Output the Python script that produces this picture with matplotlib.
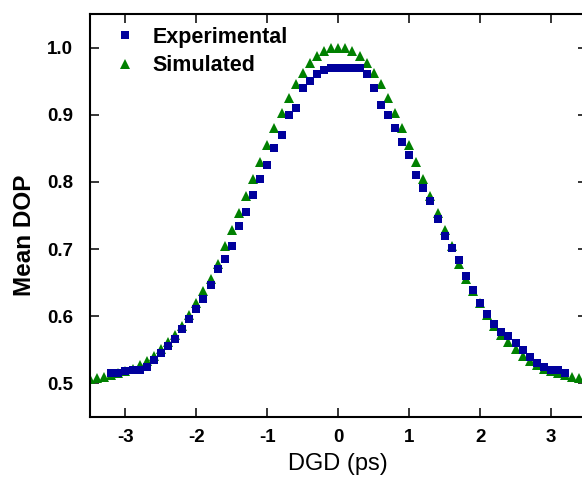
import matplotlib
matplotlib.use('Agg')
import matplotlib.pyplot as plt
import numpy as np

plt.rcParams['font.family'] = ['Liberation Sans', 'DejaVu Sans']

# simulated mean DOP, DGD from -3.5 to 3.5 ps in 0.1 steps
sim_dgd = np.round(np.arange(-35, 36) * 0.1, 1)
sim_dop = [0.507, 0.508, 0.510, 0.512, 0.515, 0.518, 0.522, 0.527, 0.533, 0.541,
           0.551, 0.561, 0.572, 0.586, 0.602, 0.619, 0.637, 0.656, 0.678, 0.704,
           0.729, 0.753, 0.779, 0.804, 0.829, 0.855, 0.880, 0.903, 0.925, 0.946,
           0.962, 0.977, 0.988, 0.995, 0.999, 1.000, 0.999, 0.995, 0.988, 0.977,
           0.962, 0.946, 0.925, 0.903, 0.880, 0.855, 0.829, 0.804, 0.779, 0.753,
           0.729, 0.704, 0.678, 0.656, 0.637, 0.619, 0.602, 0.586, 0.572, 0.561,
           0.551, 0.541, 0.533, 0.527, 0.522, 0.518, 0.515, 0.512, 0.510, 0.508,
           0.507]

# experimental mean DOP, -3.2 to 3.2 ps
exp_dgd = np.round(np.arange(-32, 33) * 0.1, 1)
exp_dop = [0.515, 0.516, 0.519, 0.520, 0.520, 0.525, 0.535, 0.546, 0.556, 0.566,
           0.581, 0.596, 0.611, 0.626, 0.646, 0.670, 0.685, 0.705, 0.734, 0.755,
           0.781, 0.805, 0.825, 0.850, 0.870, 0.899, 0.910, 0.940, 0.950, 0.960,
           0.966, 0.970, 0.970, 0.970, 0.970, 0.970, 0.960, 0.940, 0.915, 0.900,
           0.880, 0.860, 0.840, 0.811, 0.791, 0.771, 0.745, 0.720, 0.701, 0.684,
           0.660, 0.639, 0.619, 0.604, 0.589, 0.576, 0.571, 0.560, 0.550, 0.540,
           0.530, 0.525, 0.520, 0.520, 0.515]

xticks = [-3, -2, -1, 0, 1, 2, 3]
yticks = [0.5, 0.6, 0.7, 0.8, 0.9, 1.0]

fig = plt.figure(figsize=(5.82, 4.8), dpi=100)
ax = fig.add_axes([90/582, 63/480, 496.5/582, 403/480])

ax.plot(sim_dgd, sim_dop, '^', color='#008000', ms=7.5, mew=0, label='Simulated', zorder=2)
ax.plot(exp_dgd, exp_dop, 's', color='#00009C', ms=5.6, mew=0, label='Experimental', zorder=3)

ax.set_xlim(-3.5, 3.5)
ax.set_ylim(0.45, 1.05)
ax.set_xticks(xticks)
ax.set_xticklabels(['-3', '-2', '-1', '0', '1', '2', '3'])
ax.set_yticks(yticks)
ax.set_yticklabels(['%.1f' % v for v in yticks])
ax.tick_params(direction='in', length=6.5, width=1.1, top=True, right=True,
               labelsize=13.5)
ax.tick_params(axis='y', pad=12)
ax.tick_params(axis='x', pad=9)
for t in ax.get_xticklabels() + ax.get_yticklabels():
    t.set_fontweight('bold')
for s in ax.spines.values():
    s.set_linewidth(1.5)

ax.set_xlabel('DGD (ps)', fontsize=17, labelpad=5)
ax.set_ylabel('Mean DOP', fontsize=17.5, fontweight='bold')
ax.yaxis.set_label_coords(-0.108, 0.45)

h, l = ax.get_legend_handles_labels()
ax.legend(h[::-1], l[::-1], loc='upper left', bbox_to_anchor=(0.032, 0.99),
          frameon=False, handlelength=1.0, handletextpad=0.75, labelspacing=0.35,
          prop={'weight': 'bold', 'size': 15.5}, borderaxespad=0)

fig.savefig('out.png', dpi=100)
